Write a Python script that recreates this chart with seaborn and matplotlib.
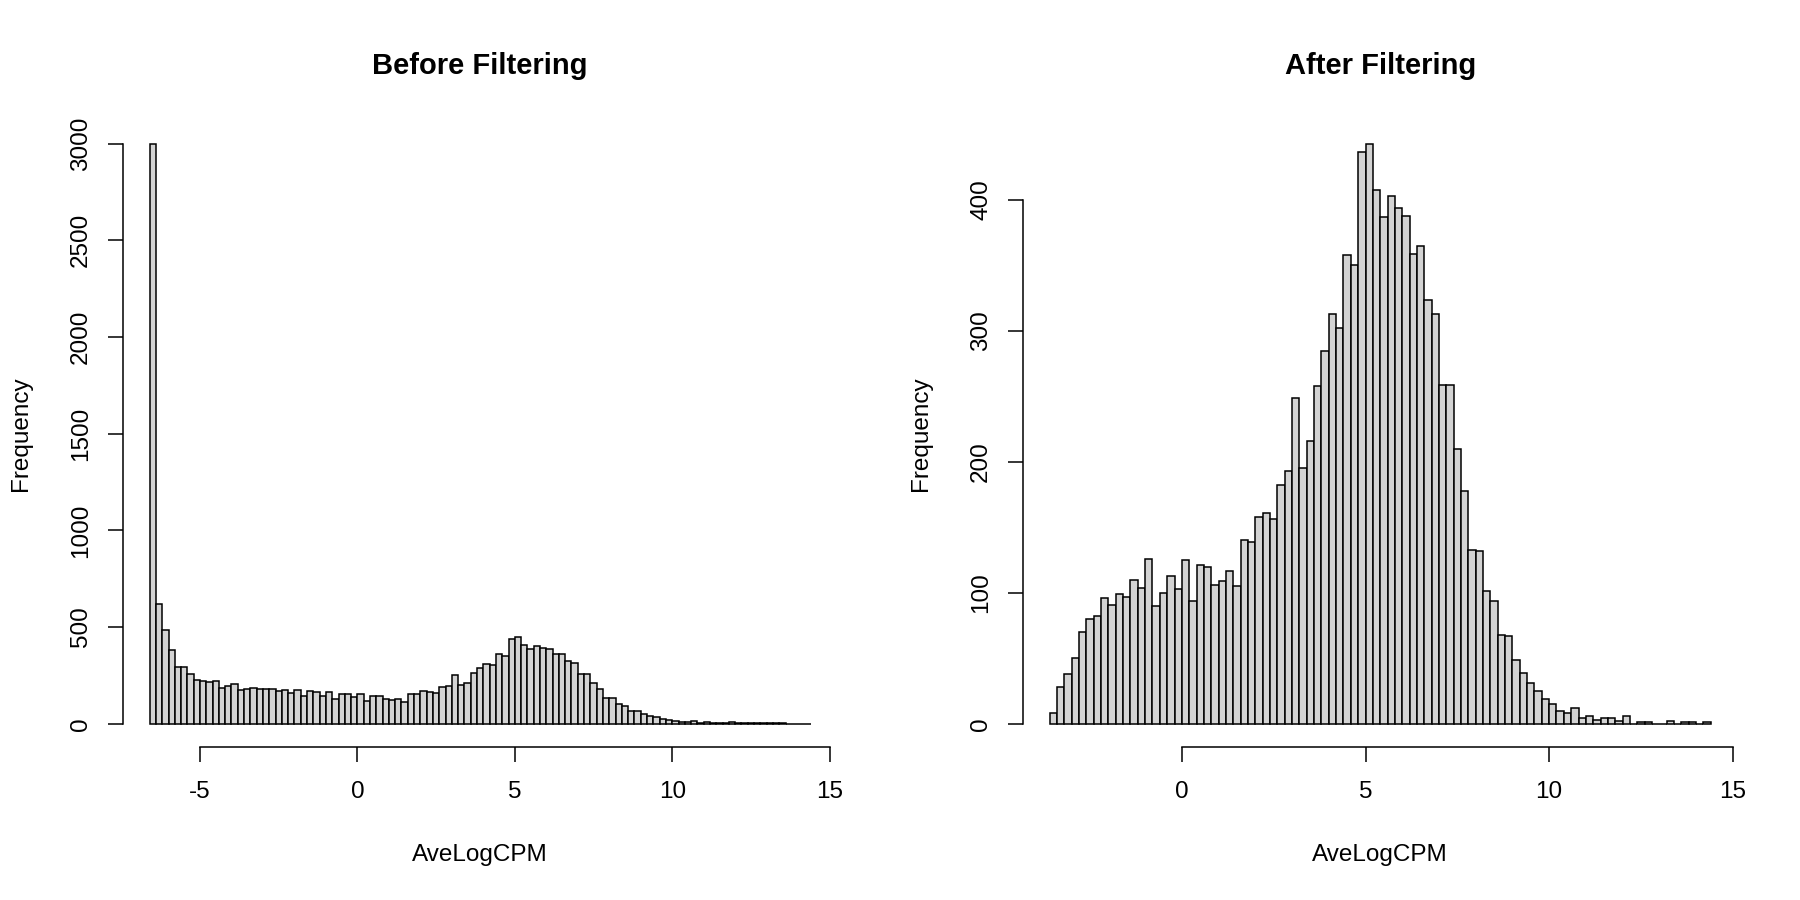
import numpy as np
import pandas as pd
import seaborn as sns
import matplotlib
matplotlib.use("Agg")
import matplotlib.pyplot as plt

# ---------------- data ----------------
bin_width = 0.2
before_first_edge = -6.6
before_counts = [3000, 617, 486, 383, 295, 295, 259, 226, 221, 216,
                 221, 184, 193, 205, 176, 181, 186, 178, 178, 181,
                 169, 174, 159, 172, 141, 171, 166, 145, 164, 129,
                 153, 152, 140, 155, 119, 143, 143, 128, 124, 129,
                 114, 153, 152, 171, 166, 159, 191, 197, 250, 202,
                 212, 260, 290, 309, 302, 359, 348, 438, 448, 405,
                 386, 403, 393, 388, 359, 359, 324, 312, 257, 259,
                 210, 178, 134, 134, 102, 93, 67, 67, 48, 41,
                 33, 26, 19, 16, 10, 9, 12, 5, 7, 5,
                 5, 5, 7, 3, 2, 2, 2, 3, 2, 2,
                 2, 1, 1, 1, 1]

after_first_edge = -3.6
after_counts = [8, 28, 38, 50, 70, 80, 82, 96, 91, 99,
                97, 110, 104, 126, 90, 100, 113, 103, 125, 94,
                121, 120, 106, 109, 117, 105, 140, 139, 158, 161,
                156, 182, 193, 249, 195, 216, 258, 285, 313, 302,
                358, 350, 437, 443, 408, 387, 403, 394, 388, 359,
                365, 324, 313, 259, 259, 210, 178, 133, 132, 101,
                94, 68, 67, 49, 39, 31, 25, 19, 15, 10,
                8, 12, 4, 6, 3, 4, 4, 2, 6, 0,
                1, 1, 0, 0, 2, 0, 1, 1, 0, 1]

titles = ["Before Filtering", "After Filtering"]
x_label = "AveLogCPM"
y_label = "Frequency"
x_ticks_before = [-5, 0, 5, 10, 15]
y_ticks_before = [0, 500, 1000, 1500, 2000, 2500, 3000]
x_ticks_after = [0, 5, 10, 15]
y_ticks_after = [0, 100, 200, 300, 400]

# ---------------- style ----------------
sns.set_style("white")
plt.rcParams['font.family'] = ['Liberation Sans', 'DejaVu Sans']
FS = 17.5
LW = 1.1

W, H = 1800, 900
fig = plt.figure(figsize=(18, 9), dpi=100)

panel_left_px = [123.2, 1023.2]
panel_w_px = 714.0
bottom_px = 746.9
top_px = 120.5


def make_edges(first, n):
    return [round(first + bin_width * j, 6) for j in range(n + 1)]


panels = [
    (before_first_edge, before_counts, x_ticks_before, y_ticks_before),
    (after_first_edge, after_counts, x_ticks_after, y_ticks_after),
]

for i, (first, counts, xt, yt) in enumerate(panels):
    counts = np.asarray(counts, dtype=float)
    edges = make_edges(first, len(counts))
    e = np.asarray(edges)
    centers = (e[:-1] + e[1:]) / 2
    df = pd.DataFrame({"x": centers, "w": counts})

    ax = fig.add_axes([panel_left_px[i] / W, (H - bottom_px) / H,
                       panel_w_px / W, (bottom_px - top_px) / H])
    sns.histplot(data=df, x="x", weights="w", bins=edges, ax=ax,
                 color="#D3D3D3", edgecolor="black", linewidth=LW,
                 alpha=1, stat="count")

    xr = e[-1] - e[0]
    ymax = counts.max()
    ax.set_xlim(e[0] - 0.04 * xr, e[-1] + 0.04 * xr)
    ax.set_ylim(-0.04 * ymax, ymax * 1.04)

    ax.set_xlabel("")
    ax.set_ylabel("")
    for s in ["top", "right"]:
        ax.spines[s].set_visible(False)
    ax.spines["left"].set_bounds(yt[0], yt[-1])
    ax.spines["bottom"].set_bounds(xt[0], xt[-1])
    ax.spines["left"].set_linewidth(LW)
    ax.spines["bottom"].set_linewidth(LW)
    ax.spines["left"].set_color("black")
    ax.spines["bottom"].set_color("black")

    ax.set_xticks(xt)
    ax.set_xticklabels([str(v) for v in xt])
    ax.set_yticks(yt)
    ax.set_yticklabels([str(v) for v in yt], rotation=90, va="center")
    ax.tick_params(axis="x", which="major", bottom=True, top=False,
                   direction="out", length=10.8, width=LW,
                   color="black", labelsize=FS, pad=14, labelcolor="black")
    ax.tick_params(axis="y", which="major", left=True, right=False,
                   direction="out", length=10.8, width=LW,
                   color="black", labelsize=FS, pad=11.5, labelcolor="black")
    ax.grid(False)
    ax.set_facecolor("none")

    cx = (panel_left_px[i] + panel_w_px / 2) / W
    fig.text(cx, (H - 74) / H, titles[i], ha="center", va="baseline",
             fontsize=FS * 1.2, fontweight="bold", color="black")
    fig.text(cx, (H - 861) / H, x_label, ha="center", va="baseline",
             fontsize=FS, color="black")
    fig.text((panel_left_px[i] - 96) / W,
             (H - (bottom_px + top_px) / 2) / H, y_label,
             ha="center", va="baseline", rotation=90,
             rotation_mode="anchor", fontsize=FS, color="black")

fig.savefig("out.png", dpi=100, facecolor="white")
